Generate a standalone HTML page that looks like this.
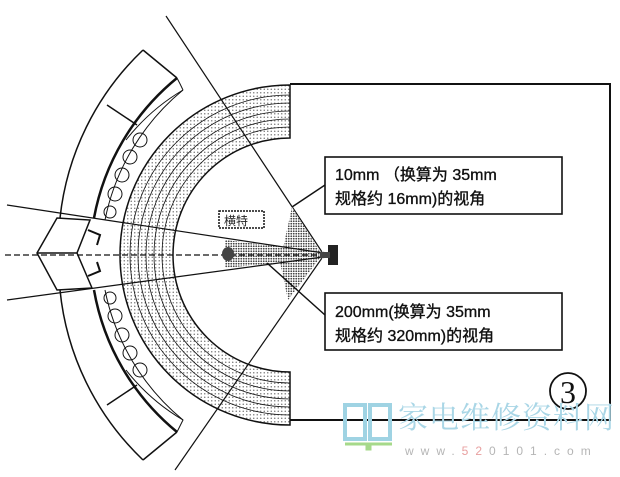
<!DOCTYPE html>
<html><head><meta charset="utf-8"><style>
html,body{margin:0;padding:0;background:#fff;width:620px;height:477px;overflow:hidden}
svg{display:block}
.t{font-family:"Liberation Sans","Noto Sans CJK SC",sans-serif;font-size:16px;fill:#111;stroke:#111;stroke-width:0.35}
</style></head><body>
<svg width="620" height="477" viewBox="0 0 620 477" xmlns="http://www.w3.org/2000/svg">
<defs>
<pattern id="dots" width="2.5" height="2.5" patternUnits="userSpaceOnUse"><rect width="2.5" height="2.5" fill="#fff"/><circle cx="1.25" cy="1.25" r="0.9" fill="#444"/></pattern>
<pattern id="ldots" width="3.5" height="3.5" patternUnits="userSpaceOnUse"><rect width="3.5" height="3.5" fill="#fff"/><circle cx="1.75" cy="1.75" r="0.75" fill="#777"/></pattern>
</defs>
<g stroke="#111" fill="none" stroke-width="1.5">
<path d="M290 84 L610 84 L610 420 L290 420" stroke-width="2"/>
<path d="M290 85 A170 170 0 0 0 290 425 L290 372 A117 117 0 0 1 290 138 Z" fill="url(#ldots)"/>
<path d="M290 95 A160 160 0 0 0 290 415" stroke-width="0.8"/>
<path d="M290 103 A152 152 0 0 0 290 407" stroke-width="0.8"/>
<path d="M290 111 A144 144 0 0 0 290 399" stroke-width="0.8"/>
<path d="M290 119 A136 136 0 0 0 290 391" stroke-width="0.8"/>
<path d="M290 127 A128 128 0 0 0 290 383" stroke-width="0.8"/>
<path d="M143 50 A272 272 0 0 0 60 218 M60 290 A272 272 0 0 0 143 460"/>
<path d="M143 50 L177 78 M143 460 L177 432"/>
<path d="M177 78 A236 236 0 0 0 94 218 M94 290 A236 236 0 0 0 177 432" stroke-width="2.5"/>
<path d="M177 78 A236 236 0 0 1 183 90 M183 90 A226 226 0 0 0 105 220 M105 290 A226 226 0 0 0 183 420 L177 432" stroke-width="1"/>
<path d="M183 90 A205 205 0 0 0 126 140 M126 370 A205 205 0 0 0 183 420" stroke-width="1"/>
<path d="M107 105 L137 125 M107 405 L137 385"/>
<g stroke-width="1">
<circle cx="140" cy="140" r="7"/><circle cx="130" cy="157" r="7"/><circle cx="122" cy="175" r="7"/><circle cx="115" cy="194" r="7"/><circle cx="110" cy="212" r="6"/>
<circle cx="140" cy="370" r="7"/><circle cx="130" cy="353" r="7"/><circle cx="122" cy="335" r="7"/><circle cx="115" cy="316" r="7"/><circle cx="110" cy="298" r="6"/>
</g>
<path d="M37 253 L57 218 L90 220 L77 253 L92 288 L57 290 Z" fill="#fff"/>
<path d="M37 253 L77 253"/>
<path d="M88 230 L100 235 L97 245 M88 276 L100 271 L97 262" stroke-width="2"/>
<path d="M166 16 L322 252" stroke-width="1.2"/>
<path d="M175 470 L322 258" stroke-width="1.2"/>
<polygon points="292,207 322,255 288,300 280,262" fill="url(#dots)" stroke="none"/>
<polygon points="225,240 325,252 325,258 225,268" fill="url(#dots)" stroke="none"/>
<path d="M7 205 L330 254" stroke-width="1.2"/>
<path d="M7 300 L330 256" stroke-width="1.2"/>
<path d="M5 255 L330 255" stroke-dasharray="6 3" stroke-width="1.2"/>
<path d="M325 185 L292 207"/>
<path d="M325 315 L267 263"/>
<rect x="219" y="211" width="45" height="17" stroke-dasharray="2 1" stroke-width="1.5"/>
</g>
<ellipse cx="228" cy="254" rx="6" ry="7" fill="#444"/>
<rect x="328" y="245" width="10" height="20" fill="#222"/>
<rect x="320" y="252" width="10" height="6" fill="#444"/>
<text x="224" y="225" font-family="Liberation Sans,Noto Sans CJK SC,sans-serif" font-size="12" fill="#222">横特</text>
<rect x="325" y="157" width="237" height="57" fill="#fff" stroke="#111" stroke-width="1.6"/>
<text class="t" x="335" y="180">10mm （换算为 35mm</text>
<text class="t" x="335" y="204">规格约 16mm)的视角</text>
<rect x="325" y="293" width="237" height="57" fill="#fff" stroke="#111" stroke-width="1.6"/>
<text class="t" x="335" y="317">200mm(换算为 35mm</text>
<text class="t" x="335" y="341">规格约 320mm)的视角</text>
<circle cx="568" cy="391" r="18" fill="none" stroke="#111" stroke-width="1.8"/>
<text x="568" y="403" text-anchor="middle" font-family="Liberation Serif,serif" font-size="32" fill="#111">3</text>
<g fill="none" stroke="#9fd3e3" stroke-width="4">
<rect x="345" y="405" width="20" height="34"/><rect x="370" y="405" width="20" height="34"/>
</g>
<path d="M345 444 L367 444 L367 449 L370 449 L370 444 L392 444" stroke="#a6d98a" stroke-width="3" fill="none"/>
<text x="398" y="428" font-family="Liberation Serif,Noto Serif CJK SC,serif" font-size="30" fill="#a9d6e6" letter-spacing="1">家电维修资料网</text>
<text x="405" y="455" font-family="Liberation Sans,sans-serif" font-size="12" fill="#b5b5b5" letter-spacing="7">www.<tspan fill="#e8a0a0">52</tspan>0101.com</text>
</svg>
</body></html>
